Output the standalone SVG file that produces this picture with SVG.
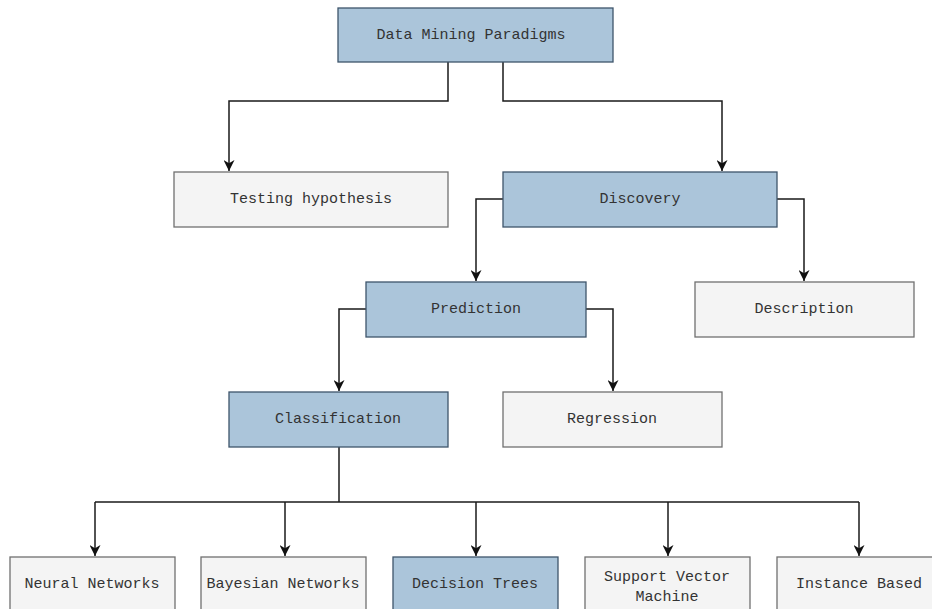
<svg xmlns="http://www.w3.org/2000/svg" width="932" height="609" viewBox="0 0 932 609">
<defs>
<style>
.blue{fill:#abc5da;stroke:#3e556b;stroke-width:1.3}
.gray{fill:#f4f4f4;stroke:#707070;stroke-width:1.3}
text{font-family:"Liberation Mono","Courier New",monospace;font-size:15px;fill:#333;text-anchor:middle;dominant-baseline:central}
.edge{fill:none;stroke:#1a1a1a;stroke-width:1.5}
</style>
<marker id="arr" viewBox="0 0 10 10" refX="10" refY="5" markerWidth="11" markerHeight="11" markerUnits="userSpaceOnUse" orient="auto">
<path d="M0,0 L10,5 L0,10 L3,5 Z" fill="#111"/>
</marker>
</defs>
<rect width="932" height="609" fill="#fff"/>
<g id="connectors">
<path class="edge" d="M448,56 V101 H229 V171" marker-end="url(#arr)"/>
<path class="edge" d="M503,56 V101 H722 V171" marker-end="url(#arr)"/>
<path class="edge" d="M503,199 H476 V281" marker-end="url(#arr)"/>
<path class="edge" d="M777,199 H804 V281" marker-end="url(#arr)"/>
<path class="edge" d="M366,309 H339 V391" marker-end="url(#arr)"/>
<path class="edge" d="M586,309 H613 V391" marker-end="url(#arr)"/>
<path class="edge" d="M339,447 V502"/>
<path class="edge" d="M95,502 H859"/>
<path class="edge" d="M95,502 V556" marker-end="url(#arr)"/>
<path class="edge" d="M285,502 V556" marker-end="url(#arr)"/>
<path class="edge" d="M476,502 V556" marker-end="url(#arr)"/>
<path class="edge" d="M668,502 V556" marker-end="url(#arr)"/>
<path class="edge" d="M859,502 V556" marker-end="url(#arr)"/>
</g>
<g id="n-root"><rect class="blue" x="338" y="8" width="275" height="54"/><text x="471" y="35">Data Mining Paradigms</text></g>
<g id="n-testing"><rect class="gray" x="174" y="172" width="274" height="55"/><text x="311" y="199">Testing hypothesis</text></g>
<g id="n-discovery"><rect class="blue" x="503" y="172" width="274" height="55"/><text x="640" y="199">Discovery</text></g>
<g id="n-prediction"><rect class="blue" x="366" y="282" width="220" height="55"/><text x="476" y="309">Prediction</text></g>
<g id="n-description"><rect class="gray" x="695" y="282" width="219" height="55"/><text x="804" y="309">Description</text></g>
<g id="n-classification"><rect class="blue" x="229" y="392" width="219" height="55"/><text x="338" y="419">Classification</text></g>
<g id="n-regression"><rect class="gray" x="503" y="392" width="219" height="55"/><text x="612" y="419">Regression</text></g>
<g id="n-neural"><rect class="gray" x="10" y="557" width="165" height="55"/><text x="92" y="584">Neural Networks</text></g>
<g id="n-bayesian"><rect class="gray" x="201" y="557" width="165" height="55"/><text x="283" y="584">Bayesian Networks</text></g>
<g id="n-decision"><rect class="blue" x="393" y="557" width="165" height="55"/><text x="475" y="584">Decision Trees</text></g>
<g id="n-svm"><rect class="gray" x="585" y="557" width="165" height="55"/><text x="667" y="577">Support Vector</text><text x="667" y="597">Machine</text></g>
<g id="n-instance"><rect class="gray" x="777" y="557" width="165" height="55"/><text x="859" y="584">Instance Based</text></g>
</svg>
